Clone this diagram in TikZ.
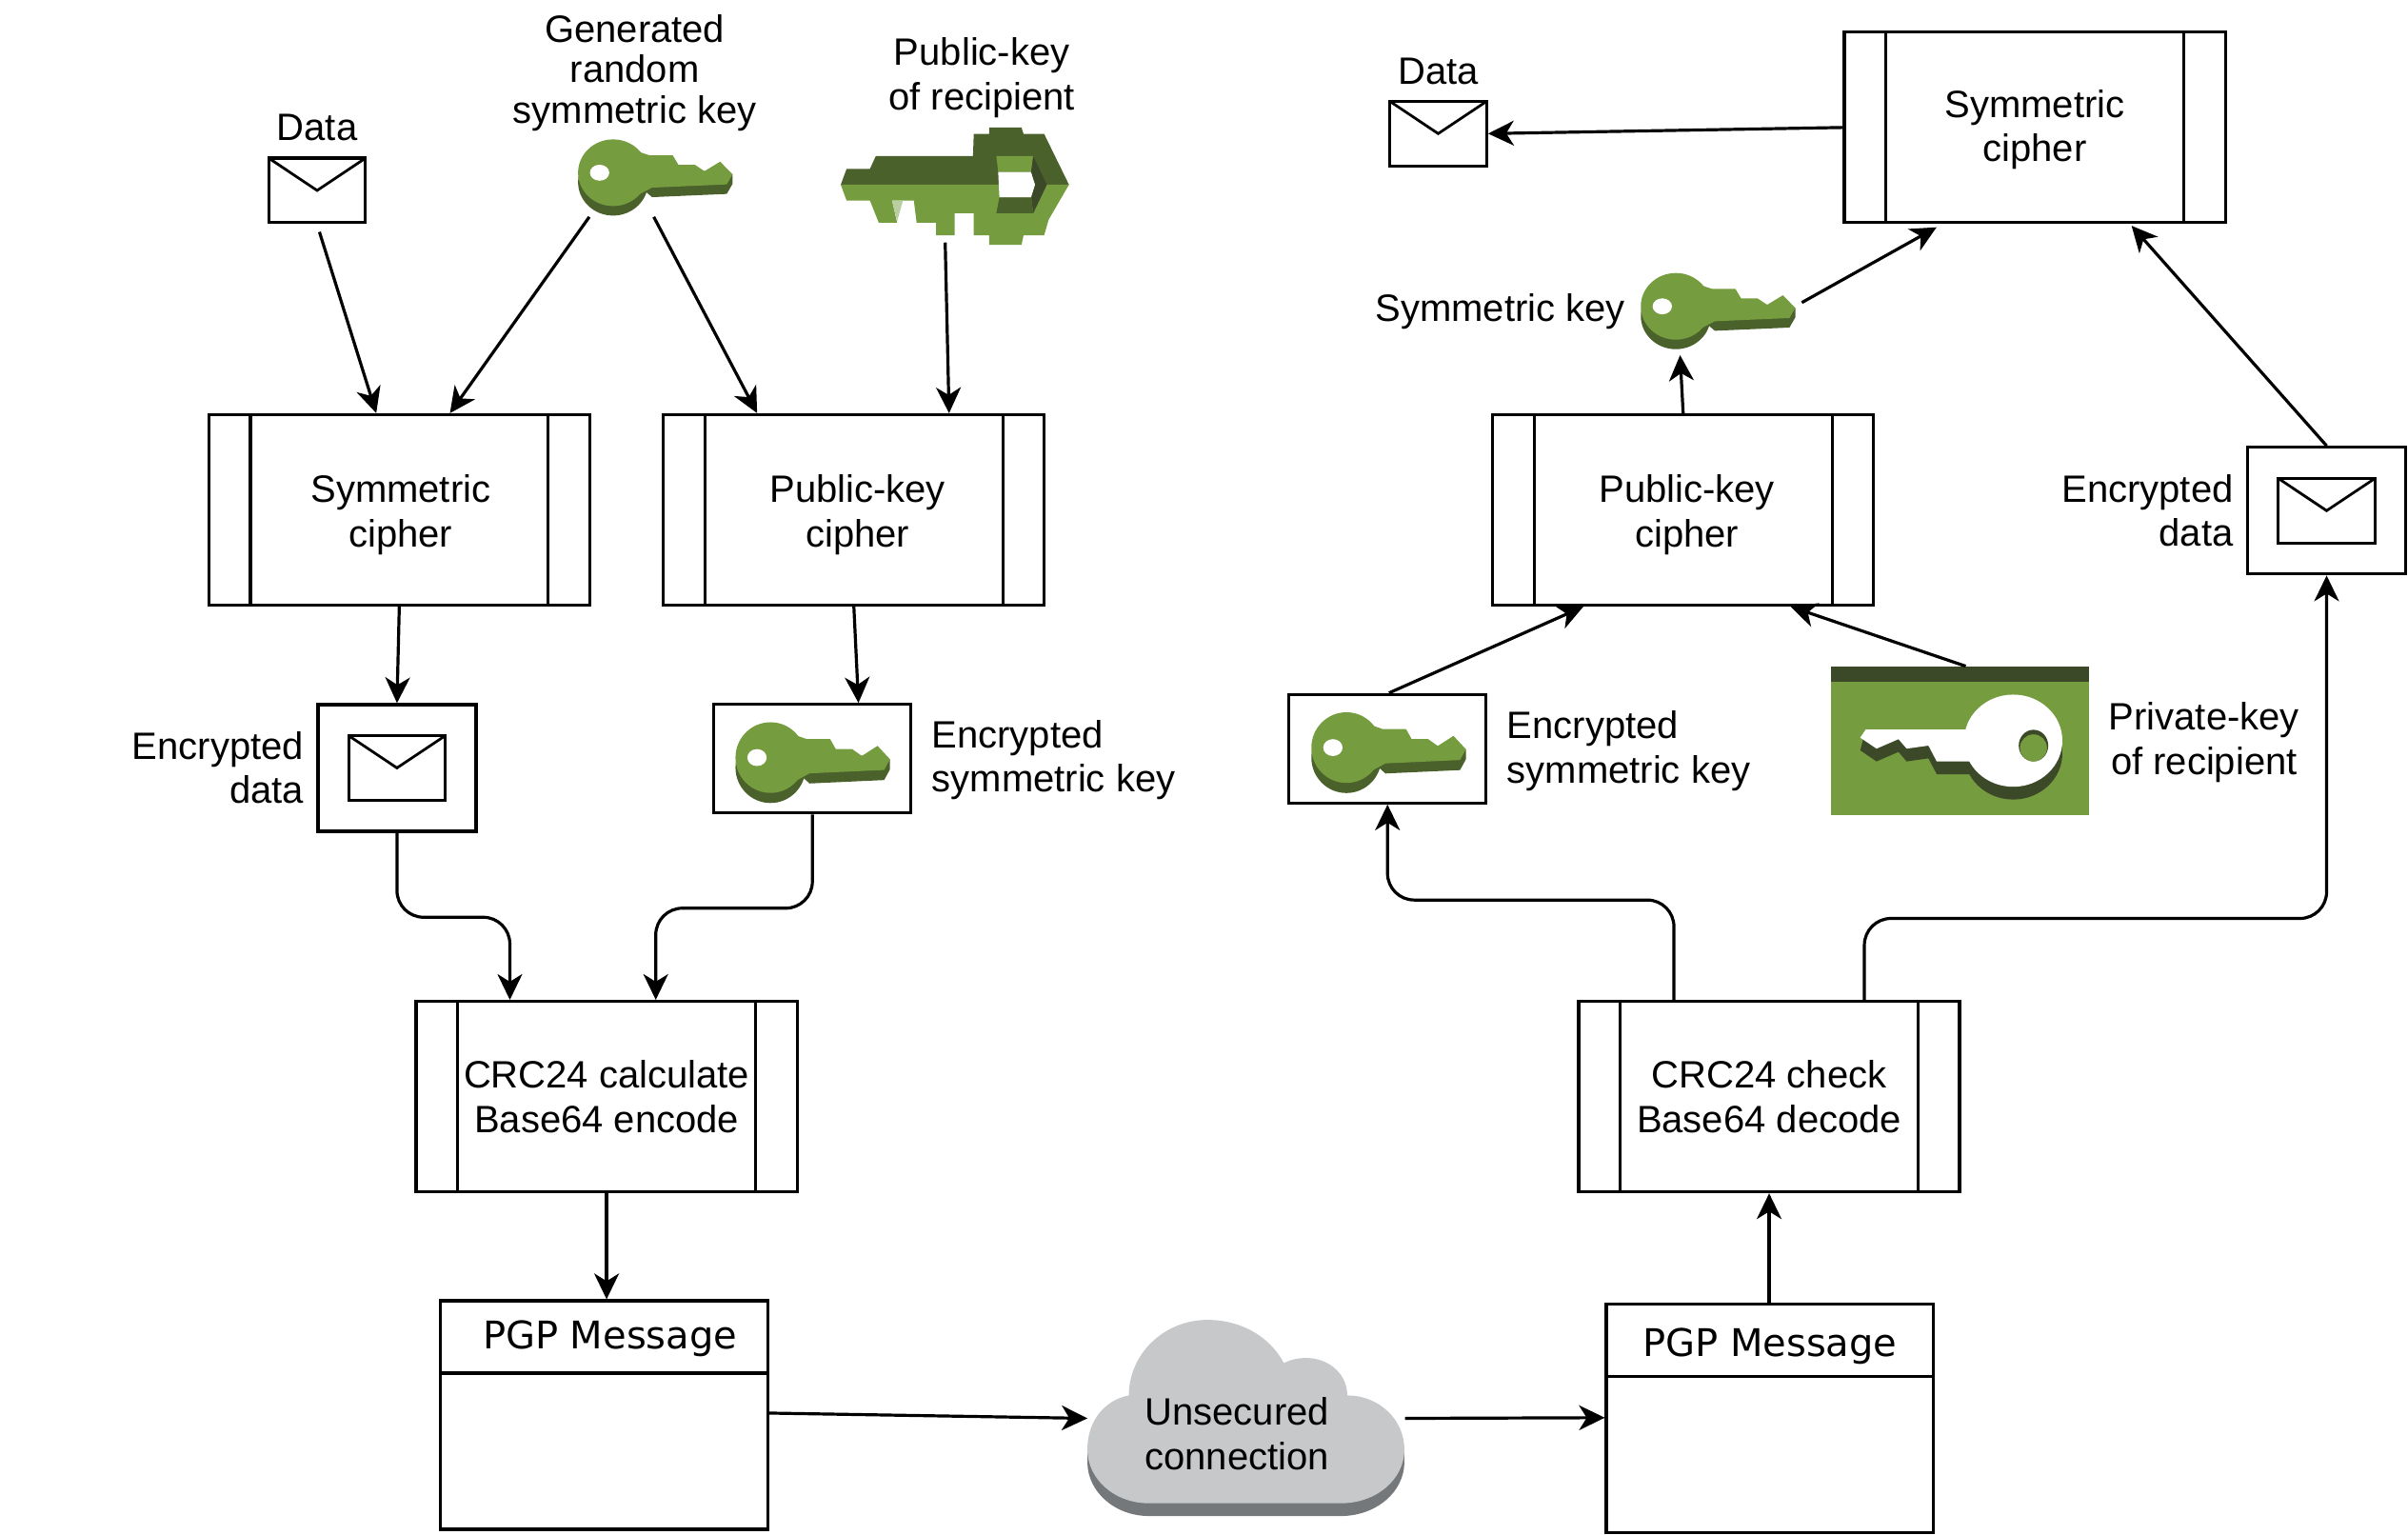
\documentclass[tikz,border=0pt]{standalone}
\usepackage{fontspec}
\setmainfont{Liberation Sans}
\newfontfamily\pgpfont{DejaVu Sans}
\usetikzlibrary{arrows.meta,positioning,calc}
\definecolor{keygreen}{HTML}{759C3E}
\definecolor{keydark}{HTML}{4B612C}
\definecolor{keydarker}{HTML}{3C4929}
\definecolor{keypale}{HTML}{B8CFA0}
\definecolor{cloudface}{HTML}{C6C8CA}
\definecolor{cloudedge}{HTML}{75787B}
\newcommand{\mainlabel}{\fontsize{20}{23.2}\selectfont}
\tikzset{
  base/.style={draw=black, line width=1.6pt, rectangle, inner sep=0pt},
  procbox/.style={base, minimum width=200pt, minimum height=100pt, align=center, font=\mainlabel,
    path picture={
      \draw[line width=1.6pt] ([xshift=21.8pt]path picture bounding box.north west) -- ([xshift=21.8pt]path picture bounding box.south west);
      \draw[line width=1.6pt] ([xshift=-21.8pt]path picture bounding box.north east) -- ([xshift=-21.8pt]path picture bounding box.south east);
    }},
  mail/.style={base, minimum width=50.8pt, minimum height=33.9pt,
    path picture={
      \draw[line width=1.4pt] (path picture bounding box.north west) -- (path picture bounding box.center) -- (path picture bounding box.north east);
    }},
  mailbox/.style={base, minimum width=83pt, minimum height=66.5pt},
  keyframe/.style={base, minimum width=103.5pt, minimum height=57pt},
  keyslot/.style={inner sep=0pt, minimum width=82.3pt, minimum height=40.3pt},
  pgphead/.style={base, minimum width=171.8pt, minimum height=38pt, font=\pgpfont\mainlabel},
  pgpbody/.style={base, minimum width=171.8pt, minimum height=82pt},
  lbl/.style={inner sep=0pt, align=center, font=\mainlabel},
  arrow/.style={-{Stealth[length=13.5pt, width=13pt, inset=4pt]}, line width=1.6pt, black},
  elbow/.style={arrow, rounded corners=14pt},
  symkey/.pic={
    \fill[keydark] (23.5,27.9) ellipse (22.8 and 21.7);
    \fill[keydark] (47,16.5) -- (101.3,22.7) -- (101.3,28.9) -- (97.5,35.5) -- (48.9,37.6) -- (40,30) -- cycle;
    \fill[keygreen] (23.5,21.7) ellipse (22.8 and 21.7);
    \fill[keygreen] (40,8) -- (47,10.3) -- (62.3,10.3) -- (66,16.5) -- (76.7,16.5) -- (83,20.7) -- (93.2,14.5) -- (101.3,22.7) -- (97.5,29.3) -- (48.9,31.4) -- (40,36) -- cycle;
    \fill[white] (14.7,21.7) ellipse (6.3 and 5.2);
  },
  publickey/.pic={
    \fill[keydark] (0,37.2) -- (3.8,26.9) -- (19,26.9) -- (22.8,18.6) -- (86.1,18.6) -- (86.6,4.1) -- (96.7,4.1) -- (96.7,0) -- (117.7,0) -- (119,4.1) -- (132.4,4.1) -- (148.6,37.2) -- cycle;
    \fill[keygreen] (0,37.2) -- (3.8,47.5) -- (19,47.5) -- (24.8,62) -- (36.7,62) -- (33.4,47.5) -- (47.6,47.5) -- (49.4,62) -- (62,62) -- (62,70.2) -- (74.2,70.2) -- (74.2,55.8) -- (86.6,55.8) -- (86.6,70.2) -- (96.7,70.2) -- (96.7,76.4) -- (117.7,76.4) -- (119,70.2) -- (132.4,70.2) -- (135.4,59.9) -- (148.6,37.2) -- cycle;
    \fill[keypale] (33.4,47.5) -- (40.5,47.5) -- (36.7,61) -- cycle;
    \fill[keygreen] (101.3,18.6) -- (125.3,18.6) -- (124,28.9) -- (102.5,28.9) -- cycle;
    \fill[white] (102.5,28.9) -- (124,28.9) -- (126.6,37.2) -- (124,45.5) -- (103.3,45.5) -- cycle;
    \fill[keydarker] (125.3,18.6) -- (134.2,37.2) -- (125.3,55.8) -- (124,45.5) -- (126.6,37.2) -- (124,28.9) -- cycle;
    \fill[keydark] (103.3,45.5) -- (124,45.5) -- (125.3,55.8) -- (101.3,55.8) -- cycle;
  },
  privatekey/.pic={
    \fill[keygreen] (0,0) rectangle (167.6,97);
    \fill[keydarker] (0,0) rectangle (167.6,10.3);
    \fill[keydarker] (118.5,56.8) ellipse (32 and 30);
    \fill[keydarker] (18.9,54.8) -- (29.5,62) -- (43.8,55.8) -- (49.1,62) -- (63.3,60) -- (68.7,70.3) -- (95,70.3) -- (95,41.3) -- (22.4,41.3) -- cycle;
    \fill[white] (118.5,48.5) ellipse (32 and 30);
    \fill[white] (22.4,41.3) -- (95,41.3) -- (95,62) -- (68.7,62) -- (63.3,51.7) -- (49.1,53.7) -- (43.8,47.5) -- (29.5,53.7) -- (18.9,46.5) -- cycle;
    \fill[keydarker] (131.7,51.7) ellipse (9.6 and 10.3);
    \fill[keygreen] (131.7,53.2) ellipse (8.8 and 8.8);
  },
}
\begin{document}
\begin{tikzpicture}[x=0.8064pt, y=-0.8064pt]
\useasboundingbox (0,0) rectangle (1568,999.4);
% sending side
\node[mail] (dataL) at (206.5,124) {};
\node[keyslot] (genkey) at (427,116) {};
\pic at (genkey.north west) {symkey};
\node[keyslot, minimum width=119.8pt, minimum height=61.6pt] (bigkey) at (622,121.5) {};
\pic at (bigkey.north west) {publickey};
\node[procbox] (symL) at (260,332) {\rule{0pt}{19.5pt}\hspace*{1.5pt}Symmetric\\\hspace*{1.5pt}cipher};
\node[procbox] (pubL) at (556,332) {\rule{0pt}{19.5pt}\hspace*{4pt}Public-key\\\hspace*{4pt}cipher};
\node[mailbox] (encL) at (258.5,500) {};
\node[mail] (mailL) at (encL) {};
\node[keyframe] (ekeyL) at (529,494) {};
\node[keyslot] (ekeyLicon) at ($(ekeyL)+(0.5,1.5)$) {};
\pic[yscale=1.06] at (ekeyLicon.north west) {symkey};
\node[procbox] (crcL) at (395,714) {CRC24 calculate\\Base64 encode};
\node[pgphead] (pgpLhead) at (393.5,870.5) {\rule{0pt}{16.2pt}\hspace*{6pt}PGP Message};
\node[pgpbody, below=-1.6pt of pgpLhead] (pgpLbody) {};
% labels on the sending side
\node[lbl, above=8pt of dataL] {Data};
\node[lbl, above=4pt of genkey, xshift=-11pt, font=\fontsize{20}{21.4}\selectfont] {Generated\\random\\symmetric key};
\node[lbl, above=5pt of bigkey, xshift=14pt] {Public-key\\of recipient};
\node[lbl, align=right, left=6.5pt of encL] {Encrypted\\data};
\node[lbl, align=left, right=10pt of ekeyL, yshift=-0.8pt] {Encrypted\\symmetric key};
% the connection
\node[inner sep=0pt, minimum width=166.4pt, minimum height=103pt] (cloud) at (811.5,923.5) {};
\begin{scope}[shift={(cloud.north west)}]
  \fill[cloudedge] (0,84.3) -- (0,92.6) .. controls (0,112) and (18,127.7) .. (40,127.7) -- (165,127.7) .. controls (188,127.7) and (206.4,112) .. (206.4,92.6) -- (206.4,84.3) -- cycle;
  \fill[cloudface] (0,84.3) .. controls (0,65) and (12,52) .. (27,49.2) .. controls (27,22) and (50,0) .. (78.3,0) .. controls (100,0) and (119,11) .. (127.9,28.1) .. controls (132,26) and (137,24.8) .. (142.4,24.8) .. controls (157,24.8) and (169.2,35) .. (169.2,49.2) .. controls (190,49.2) and (206.4,65) .. (206.4,84.3) .. controls (206.4,104) and (188,119.4) .. (165,119.4) -- (40,119.4) .. controls (18,119.4) and (0,104) .. (0,84.3) -- cycle;
\end{scope}
\node[lbl] (cloudtext) at ($(cloud)+(-6,10)$) {Unsecured\\connection};
% receiving side
\node[pgphead] (pgpRhead) at (1152.5,872.5) {\rule{0pt}{21pt}PGP Message};
\node[pgpbody, below=-1.6pt of pgpRhead] (pgpRbody) {};
\node[procbox] (crcR) at (1152,714) {CRC24 check\\Base64 decode};
\node[keyframe] (ekeyR) at (903.5,487.5) {};
\node[keyslot] (ekeyRicon) at ($(ekeyR)+(1,1.5)$) {};
\pic[yscale=1.06] at (ekeyRicon.north west) {symkey};
\node[inner sep=0pt, minimum width=135.2pt, minimum height=78.2pt] (privkey) at (1276.5,482.5) {};
\pic at (privkey.north west) {privatekey};
\node[procbox] (pubR) at (1096,332) {\rule{0pt}{19.5pt}\hspace*{4pt}Public-key\\\hspace*{4pt}cipher};
\node[keyslot] (symkeyR) at (1119,203) {};
\pic at (symkeyR.north west) {symkey};
\node[mailbox] (encR) at (1515,332.5) {};
\node[mail] (mailR) at (encR) {};
\node[procbox] (symR) at (1325,83) {\rule{0pt}{17pt}Symmetric\\cipher};
\node[mail] (dataR) at (936.5,87) {};
% labels on the receiving side
\node[lbl, align=left, right=10pt of ekeyR, yshift=-1.2pt] {Encrypted\\symmetric key};
\node[lbl, right=10pt of privkey, yshift=-0.8pt] {Private-key\\of recipient};
\node[lbl, align=right, left=6.5pt of encR] {Encrypted\\data};
\node[lbl, left=7.5pt of symkeyR] {Symmetric key};
\node[lbl, above=8pt of dataR] {Data};
% connectors
\draw[arrow] ($(dataL.south)+(1.5,5)$) -- ($(symL.north)+(-15,0)$);
\draw[arrow] ($(genkey.south west)+(8,0)$) -- ($(symL.north)+(33,0)$);
\draw[arrow] ($(genkey.south west)+(50,0)$) -- ($(pubL.north)+(-63,0)$);
\draw[arrow] ($(bigkey.south west)+(68,-2)$) -- ($(pubL.north)+(62,0)$);
\draw[arrow] (symL.south) -- (encL.north);
\draw[arrow] (pubL.south) -- ($(ekeyL.north)+(30,0)$);
\draw[elbow] (encL.south) -- ++(0,55) -| ($(crcL.north)+(-63,0)$);
\draw[elbow] (ekeyL.south) -- ++(0,61) -| ($(crcL.north)+(32,0)$);
\draw[arrow] (crcL.south) -- (crcL.south |- pgpLhead.north);
\draw[arrow] ($(pgpLbody.north east)+(0,27)$) -- (cloud.west);
\draw[arrow] (cloud.east) -- ($(pgpRbody.north west)+(0,28)$);
\draw[arrow] (crcR.south |- pgpRhead.north) -- (crcR.south);
\draw[elbow] ($(crcR.north)+(-62,0)$) -- ++(0,-65) -| (ekeyR.south);
\draw[elbow] ($(crcR.north)+(62,0)$) -- ++(0,-53) -| (encR.south);
\draw[arrow] ($(ekeyR.north)+(1,0)$) -- ($(pubR.south)+(-65,0)$);
\draw[arrow] ($(privkey.north)+(3.5,0)$) -- ($(pubR.south)+(70,0)$);
\draw[arrow] (pubR.north) -- ($(symkeyR.south)+(-25,3)$);
\draw[arrow] ($(symkeyR.east)+(3,-6)$) -- ($(symR.south)+(-64,2)$);
\draw[arrow] (encR.north) -- ($(symR.south)+(63,1)$);
\draw[arrow] (symR.west) -- (dataR.east);
\end{tikzpicture}
\end{document}
